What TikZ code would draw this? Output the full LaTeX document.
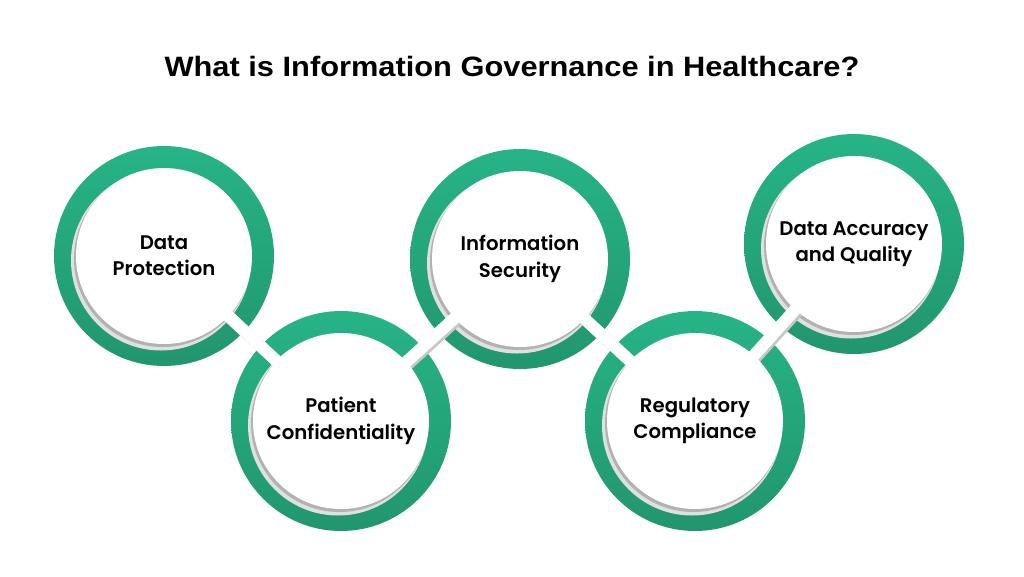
\documentclass[tikz,border=0pt]{standalone}
\usepackage{fontspec}
\setmainfont{Liberation Sans}
\newfontfamily\titlefont{Liberation Sans}[FakeStretch=1.1]
\newfontfamily\labelfont{Poppins SemiBold}
\usepackage{tikz}
\usetikzlibrary{calc}

\definecolor{ringtop}{RGB}{38,180,134}
\definecolor{ringbot}{RGB}{34,150,110}

\tikzset{
    ring/.style={circle, minimum size=220pt, inner sep=0pt,
                 top color=ringtop, bottom color=ringbot},
    face/.style={circle, fill=white, minimum size=176pt, inner sep=0pt,
                 align=center, font=\labelfont\fontsize{19.7}{26.4}\selectfont},
    dropshadow/.style={fill=black!30},
    softshadow/.style={fill=black!12},
    bridge/.style={white, line width=12pt},
    bridgeshade/.style={black!22, line width=12pt}
}

\begin{document}
\begin{tikzpicture}[x=1pt,y=-1pt]
    \useasboundingbox (0,0) rectangle (1024,576);

    \node[anchor=base, font=\titlefont\bfseries\fontsize{28}{30}\selectfont]
         (title) at (512,76.7) {What is Information Governance in Healthcare?};

    % rings
    \node[ring] (dp) at (164,256) {};
    \node[ring] (pc) at (341,421) {};
    \node[ring] (is) at (520,259) {};
    \node[ring] (rc) at (695,421) {};
    \node[ring] (da) at (854,244) {};

    % shadows
    \foreach \r in {dp,pc,is,rc,da}{
        \fill[softshadow] ($(\r)+(-3,4.5)$) circle (90pt);
        \fill[dropshadow] ($(\r)+(-1.5,2.5)$) circle (88.5pt);
    }
    \foreach \a/\b in {dp/pc,pc/is,is/rc,rc/da}
        \draw[bridgeshade] ($(\a)+(2,2)$) -- ($(\b)+(2,2)$);

    %edges
    \foreach \a/\b in {dp/pc,pc/is,is/rc,rc/da}
        \draw[bridge] (\a.center) -- (\b.center);

    % labels
    \node[face] (dptext) at (dp) {Data\\Protection};
    \node[face] (pctext) at (pc) {Patient\\Confidentiality};
    \node[face] (istext) at (is) {Information\\Security};
    \node[face] (rctext) at (rc) {Regulatory\\Compliance};
    \node[face] (datext) at (da) {Data Accuracy\\and Quality};
\end{tikzpicture}
\end{document}
